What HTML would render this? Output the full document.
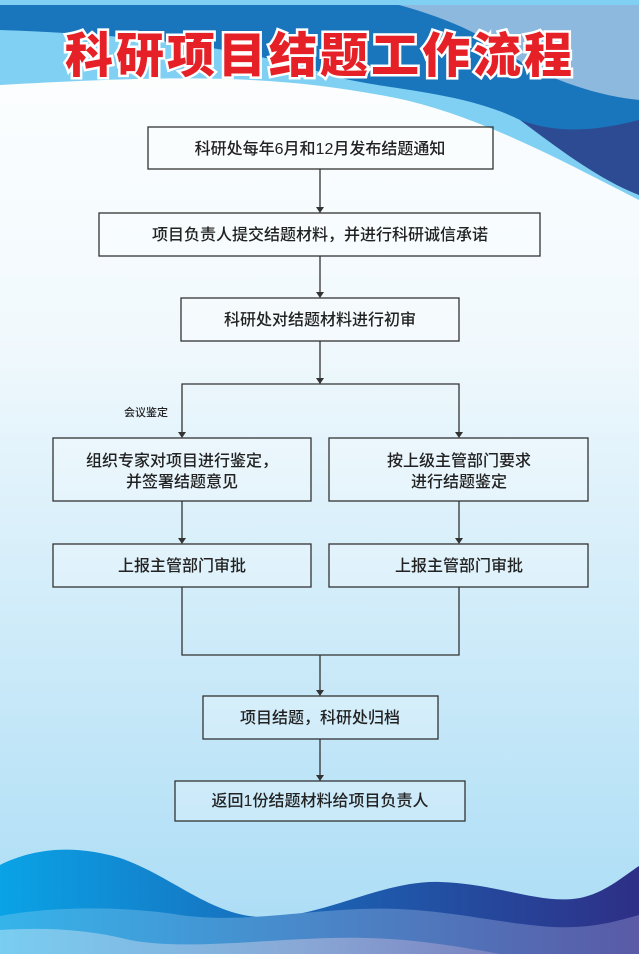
<!DOCTYPE html>
<html><head><meta charset="utf-8"><style>
body{margin:0;width:639px;height:954px;overflow:hidden;font-family:"Liberation Sans","Noto Sans CJK SC",sans-serif;}
svg{display:block}
</style></head><body>
<svg width="639" height="954" viewBox="0 0 639 954" xmlns="http://www.w3.org/2000/svg">
<defs>
<linearGradient id="bg" x1="0" y1="0" x2="0" y2="1">
<stop offset="0" stop-color="#ffffff"/><stop offset="0.35" stop-color="#f1f9fd"/><stop offset="1" stop-color="#a9dcf5"/></linearGradient>
<linearGradient id="w1" x1="0" y1="0" x2="1" y2="0"><stop offset="0" stop-color="#0aa3e6"/><stop offset="0.5" stop-color="#1b63b4"/><stop offset="1" stop-color="#2e2f86"/></linearGradient>
<linearGradient id="w2" x1="0" y1="0" x2="1" y2="0"><stop offset="0" stop-color="#36b4ea"/><stop offset="0.5" stop-color="#4a86c8"/><stop offset="1" stop-color="#5a5aa6"/></linearGradient>
<linearGradient id="w3" x1="0" y1="0" x2="1" y2="0"><stop offset="0" stop-color="#79cdf1"/><stop offset="0.6" stop-color="#89a8d6"/><stop offset="1" stop-color="#7a82c0"/></linearGradient>
</defs>
<rect width="639" height="954" fill="url(#bg)"/>
<!-- top waves -->
<path d="M0,0 H639 V200 C560,160 470,110 380,95 C270,75 180,75 0,85 Z" fill="#7fd0f3"/>
<path d="M0,0 H639 V195 C600,175 560,140 520,120 C460,90 380,90 330,75 C250,50 150,35 0,30 Z" fill="#1976bd"/>
<path d="M380,0 H639 V100 C590,95 540,75 510,55 C470,25 420,10 380,0 Z" fill="#8cb9dd"/>
<path d="M520,120 C560,135 600,130 639,120 V195 C600,180 560,150 520,120 Z" fill="#2d4b93"/>
<rect width="639" height="5" fill="#7fd0f3"/>
<!-- bottom waves -->
<path d="M0,865 C30,850 70,843 120,858 C170,875 210,915 260,917 C320,920 380,880 440,882 C500,884 540,905 580,898 C605,893 625,875 639,866 V954 H0 Z" fill="url(#w1)"/>
<path d="M0,916 C60,905 130,907 180,915 C240,923 290,912 360,909 C430,906 480,920 540,926 C590,931 620,920 639,915 V954 H0 Z" fill="url(#w2)"/>
<path d="M0,930 C50,927 90,930 130,940 C180,950 260,940 330,938 C400,936 450,945 500,954 H0 Z" fill="url(#w3)"/>
<!-- title -->
<text x="320" y="72" text-anchor="middle" font-family="'Noto Sans CJK SC',sans-serif" font-weight="900" font-size="48" fill="#e52127" stroke="#fff" stroke-width="5" paint-order="stroke" letter-spacing="3">科研项目结题工作流程</text>
<!-- lines -->
<g stroke="#333" stroke-width="1.3" fill="none">
<line x1="320" y1="169" x2="320" y2="209"/>
<line x1="320" y1="256" x2="320" y2="294"/>
<line x1="320" y1="341" x2="320" y2="384"/>
<polyline points="182,434 182,384 459,384 459,434"/>
<line x1="182" y1="501" x2="182" y2="540"/>
<line x1="459" y1="501" x2="459" y2="540"/>
<polyline points="182,587 182,655 459,655 459,587"/>
<line x1="320" y1="655" x2="320" y2="692"/>
<line x1="320" y1="739" x2="320" y2="777"/>
</g>
<g fill="#333">
<path d="M316,207 L324,207 L320,213Z"/><path d="M316,292 L324,292 L320,298Z"/><path d="M316,378 L324,378 L320,384Z"/>
<path d="M178,432 L186,432 L182,438Z"/><path d="M455,432 L463,432 L459,438Z"/>
<path d="M178,538 L186,538 L182,544Z"/><path d="M455,538 L463,538 L459,544Z"/>
<path d="M316,690 L324,690 L320,696Z"/><path d="M316,775 L324,775 L320,781Z"/>
</g>
<g stroke="#333" stroke-width="1.3" fill="rgba(255,255,255,0.25)">
<rect x="148" y="127" width="345" height="42"/>
<rect x="99" y="213" width="441" height="43"/>
<rect x="181" y="298" width="278" height="43"/>
<rect x="53" y="438" width="258" height="63"/>
<rect x="329" y="438" width="259" height="63"/>
<rect x="53" y="544" width="258" height="43"/>
<rect x="329" y="544" width="259" height="43"/>
<rect x="203" y="696" width="235" height="43"/>
<rect x="175" y="781" width="290" height="40"/>
</g>
<g font-size="16" fill="#222" text-anchor="middle" font-weight="500">
<text x="320" y="154">科研处每年6月和12月发布结题通知</text>
<text x="320" y="240">项目负责人提交结题材料，并进行科研诚信承诺</text>
<text x="320" y="325">科研处对结题材料进行初审</text>
<text x="182" y="466">组织专家对项目进行鉴定，</text>
<text x="182" y="487">并签署结题意见</text>
<text x="459" y="466">按上级主管部门要求</text>
<text x="459" y="487">进行结题鉴定</text>
<text x="182" y="571">上报主管部门审批</text>
<text x="459" y="571">上报主管部门审批</text>
<text x="320" y="723">项目结题，科研处归档</text>
<text x="320" y="806">返回1份结题材料给项目负责人</text>
<text x="146" y="416" font-size="11">会议鉴定</text>
</g>
</svg>
</body></html>
